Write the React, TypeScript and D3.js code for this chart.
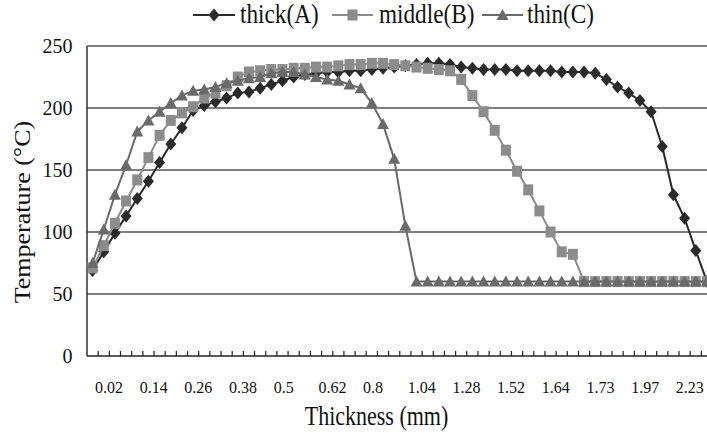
import React from 'react';
import * as d3 from 'd3';

// values, one per category (56 categories)
const thickA = [
  69, 84, 99, 113, 127, 141, 156, 171, 184, 198, 202, 205, 208, 212, 213, 216,
  219, 222, 225, 227, 228, 229, 229, 230, 230, 231, 232, 233, 234, 235, 236, 236,
  235, 233, 232, 231, 231, 231, 230, 230, 230, 230, 229, 229, 229, 228, 223, 217,
  212, 206, 197, 169, 130, 111, 85, 60,
];
const middleB = [
  71, 89, 107, 125, 142, 160, 178, 190, 196, 201, 208, 212, 218, 225, 229, 230,
  231, 231, 232, 232, 233, 233, 234, 235, 235, 236, 236, 235, 234, 233, 232, 231,
  230, 223, 210, 197, 182, 166, 149, 134, 117, 100, 84, 82, 60, 60, 60, 60,
  60, 60, 60, 60, 60, 60, 60, 60,
];
const thinC = [
  75, 102, 130, 154, 181, 190, 197, 204, 210, 214, 215, 217, 220, 222, 224, 225,
  228, 229, 229, 227, 225, 223, 222, 219, 216, 204, 187, 159, 105, 60, 60, 60,
  60, 60, 60, 60, 60, 60, 60, 60, 60, 60, 60, 60, 60, 60, 60, 60,
  60, 60, 60, 60, 60, 60, 60, 60,
];
const tickLabels = ['0.02', '0.14', '0.26', '0.38', '0.5', '0.62', '0.8', '1.04', '1.28', '1.52', '1.64', '1.73', '1.97', '2.23'];
const yTicks = [0, 50, 100, 150, 200, 250];
const seriesNames = ['thick(A)', 'middle(B)', 'thin(C)'];

const FONT = { fontFamily: '"Liberation Serif", Tinos, serif' };

const categories = d3.range(thickA.length);

function Marker({ kind, cx, cy, fill }) {
  if (kind === 'diamond') {
    return <path d={`M${cx},${cy - 6.5}L${cx + 5.5},${cy}L${cx},${cy + 6.5}L${cx - 5.5},${cy}Z`} fill={fill} />;
  }
  if (kind === 'square') {
    return <rect x={cx - 5} y={cy - 5.5} width={10} height={11} fill={fill} />;
  }
  return <path d={`M${cx},${cy - 6}L${cx + 6},${cy + 5}L${cx - 6},${cy + 5}Z`} fill={fill} />;
}

export default function App() {
  const width = 707;
  const height = 433;
  const left = 87;
  const x = d3.scaleBand().domain(categories).range([left, left + 56 * 11.17]).padding(0);
  const y = d3.scaleLinear().domain([0, 250]).range([356, 46]);
  const bw = x.bandwidth();
  const cx = (i) => x(i) + bw / 2;

  const series = [
    { name: seriesNames[0], values: thickA, color: '#2a2a2a', marker: 'diamond' },
    { name: seriesNames[1], values: middleB, color: '#8c8c8c', marker: 'square' },
    { name: seriesNames[2], values: thinC, color: '#6a6a6a', marker: 'triangle' },
  ];

  const line = d3.line().x((d, i) => cx(i)).y((d) => y(d));

  const legend = [
    { x0: 193, x1: 235, tx: 240 },
    { x0: 332, x1: 373, tx: 379 },
    { x0: 482, x1: 523, tx: 527 },
  ];

  return (
    <svg width={width} height={height} style={{ position: 'absolute', left: 0, top: 0, background: '#fff' }}>
      {/* grid */}
      {yTicks.filter((t) => t > 0).map((t) => (
        <line key={t} x1={left} x2={x.range()[1]} y1={y(t)} y2={y(t)} stroke="#000" strokeWidth={1.2} />
      ))}
      {/* axes */}
      <line x1={left} x2={left} y1={y(250)} y2={y(0)} stroke="#333" strokeWidth={1.5} />
      <line x1={left} x2={x.range()[1]} y1={y(0)} y2={y(0)} stroke="#222" strokeWidth={1.5} />
      {categories.map((i) => (
        <line key={i} x1={x(i) + bw} x2={x(i) + bw} y1={y(0)} y2={y(0) - 5} stroke="#222" strokeWidth={1.2} />
      ))}
      {yTicks.map((t) => (
        <text key={t} x={72.5} y={y(t)} textAnchor="end" dominantBaseline="central"
          style={FONT} fontSize={20} fill="#111">{t}</text>
      ))}
      {tickLabels.map((lb, k) => (
        <text key={lb} x={x(k * 4) + 8} y={393} style={FONT} fontSize={16} fill="#111">{lb}</text>
      ))}
      {/* series */}
      {series.map((s) => (
        <g key={s.name}>
          <path d={line(s.values)} fill="none" stroke={s.color} strokeWidth={2} />
          {s.values.map((v, i) => (
            <Marker key={i} kind={s.marker} cx={cx(i)} cy={y(v)} fill={s.color} />
          ))}
        </g>
      ))}
      {/* legend */}
      {series.map((s, k) => (
        <g key={s.name}>
          <line x1={legend[k].x0} x2={legend[k].x1} y1={15} y2={15} stroke={s.color} strokeWidth={2} />
          <Marker kind={s.marker} cx={(legend[k].x0 + legend[k].x1) / 2} cy={15} fill={s.color} />
          <text transform={`translate(${legend[k].tx},23) scale(0.86,1)`} style={FONT} fontSize={27} fill="#111">{s.name}</text>
        </g>
      ))}
      {/* axis titles */}
      <text transform="translate(376.5,425) scale(0.8,1)" textAnchor="middle" style={FONT} fontSize={27.5} fill="#111">Thickness (mm)</text>
      <text transform="translate(30,212) rotate(-90) scale(1,0.86)" textAnchor="middle" style={FONT} fontSize={26} fill="#111">Temperature (°C)</text>
    </svg>
  );
}
